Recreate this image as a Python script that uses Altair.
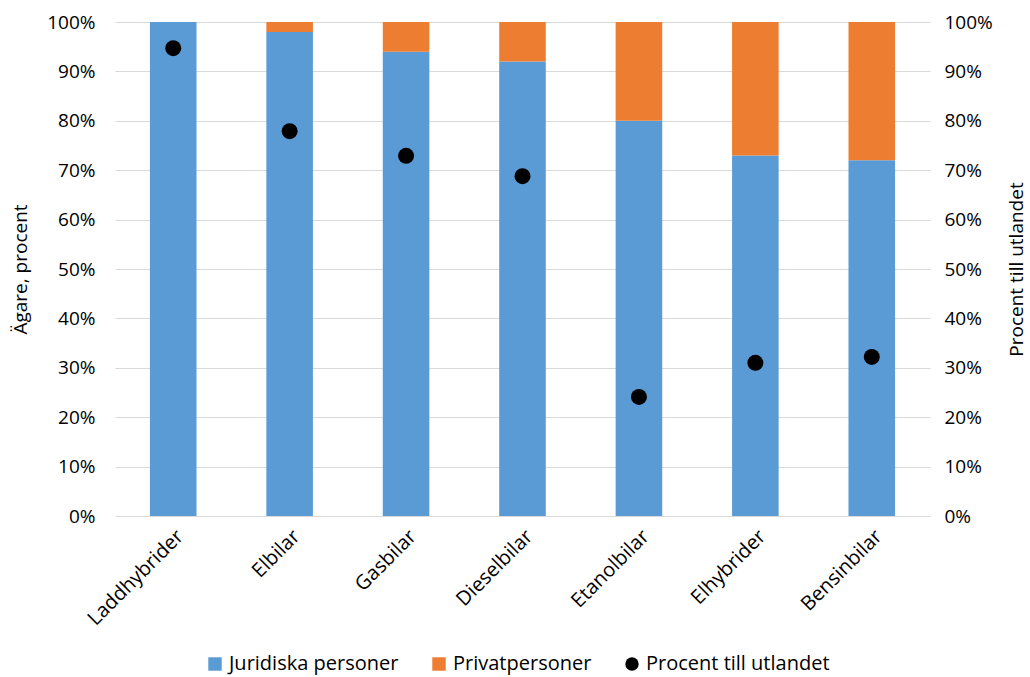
import altair as alt
import pandas as pd

categories = ["Laddhybrider", "Elbilar", "Gasbilar", "Dieselbilar", "Etanolbilar", "Elhybrider", "Bensinbilar"]
juridiska = [1.00, 0.98, 0.94, 0.92, 0.80, 0.73, 0.72]
privat = [0.00, 0.02, 0.06, 0.08, 0.20, 0.27, 0.28]
utlandet = [0.947, 0.779, 0.729, 0.688, 0.241, 0.310, 0.322]

series = ["Juridiska personer", "Privatpersoner", "Procent till utlandet"]
colors = ["#5B9BD5", "#ED7D31", "#000000"]
shapes = ["square", "square", "circle"]

rows = []
for c, j, p in zip(categories, juridiska, privat):
    rows.append({"kat": c, "serie": series[0], "v": j, "ord": 0})
    rows.append({"kat": c, "serie": series[1], "v": p, "ord": 1})
bars_df = pd.DataFrame(rows)
pts_df = pd.DataFrame({"kat": categories, "serie": series[2], "v": utlandet})

FONT = "Open Sans"
FS = 19
FX = 20

xenc = alt.X("kat:N", sort=categories, title=None,
             scale=alt.Scale(paddingInner=0.6, paddingOuter=0.3),
             axis=alt.Axis(labelAngle=-45, labelFontSize=FX, labelFont=FONT, labelColor="#000",
                           ticks=False, domain=False, labelPadding=10))

color = alt.Color("serie:N", scale=alt.Scale(domain=series, range=colors),
                  legend=alt.Legend(title=None, orient="none", legendX=90, legendY=632,
                                    direction="horizontal", columns=3, labelFontSize=FX,
                                    labelFont=FONT, labelColor="#000", symbolSize=180,
                                    columnPadding=30, symbolStrokeWidth=0, labelOffset=4,
                                    labelLimit=0))
shape = alt.Shape("serie:N", scale=alt.Scale(domain=series, range=shapes), legend=None)

bars = alt.Chart(bars_df).mark_bar(stroke=None).encode(
    x=xenc,
    y=alt.Y("v:Q", stack="zero", scale=alt.Scale(domain=[0, 1]),
            title="Ägare, procent",
            axis=alt.Axis(format=".0%", values=[i / 10 for i in range(11)], labelFontSize=FS,
                          labelFont=FONT, labelColor="#000", ticks=False, domain=False,
                          gridColor="#d9d9d9", titleFont=FONT, titleFontSize=FS,
                          titleFontWeight="normal", titleColor="#000", titlePadding=16,
                          labelPadding=20)),
    color=color,
    order=alt.Order("ord:Q"),
)

pts = alt.Chart(pts_df).mark_point(filled=True, size=256, opacity=1).encode(
    x=alt.X("kat:N", sort=categories),
    y=alt.Y("v:Q", scale=alt.Scale(domain=[0, 1]), title="Procent till utlandet",
            axis=alt.Axis(format=".0%", values=[i / 10 for i in range(11)], orient="right",
                          labelFontSize=FS, labelFont=FONT, labelColor="#000", ticks=False,
                          domain=False, grid=False, titleFont=FONT, titleFontSize=FS,
                          titleFontWeight="normal", titleColor="#000", titleAngle=-90,
                          titlePadding=34, labelPadding=14)),
    color=color,
    shape=shape,
)

chart = alt.layer(bars, pts).resolve_scale(y="independent").properties(
    width=815, height=494,
    autosize=alt.AutoSizeParams(type="none"),
    padding={"left": 115, "top": 22, "right": 100, "bottom": 161},
).configure_view(stroke=None)

chart.save("out.html", embed_options={"renderer": "svg", "actions": False})
